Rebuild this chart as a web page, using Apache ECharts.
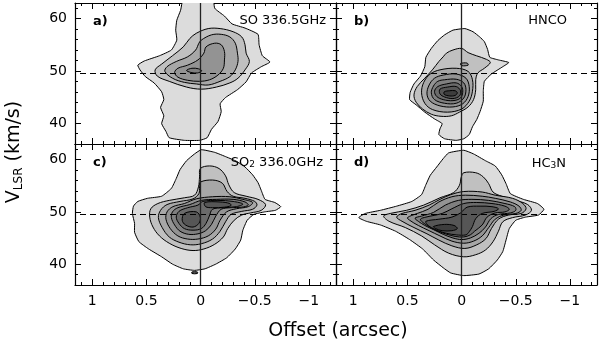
<!DOCTYPE html>
<html>
<head>
<meta charset="utf-8">
<script src="https://cdn.jsdelivr.net/npm/echarts@6/dist/echarts.min.js"></script>
<style>
  html, body { margin: 0; padding: 0; background: #fff; }
  #chart { width: 600px; height: 343px; }
</style>
</head>
<body>
<div id="chart"></div>
<script>
// axis ticks
const xMajor = [1, 0.5, 0, -0.5, -1]
const xMinor = [1.1, 0.9, 0.8, 0.7, 0.6, 0.4, 0.3, 0.2, 0.1, -0.1, -0.2, -0.3, -0.4, -0.6, -0.7, -0.8, -0.9, -1.1, -1.2]
const yMajor = [40, 50, 60]
const yMinor = [36, 38, 42, 44, 46, 48, 52, 54, 56, 58, 62]
const vSystemic = 49.5

// contours, [offset arcsec, V km/s], outermost level first
// a) SO 336.5GHz
const soL1 = [[0.15,64.5],[0.185,61.6],[0.22,59.7],[0.23,57.8],[0.22,55.9],[0.27,54.0],[0.38,52.9],[0.52,51.9],[0.58,51.1],[0.56,50.2],[0.51,48.9],[0.43,47.7],[0.36,46.0],[0.34,44.5],[0.37,43.0],[0.34,41.4],[0.36,39.9],[0.32,38.4],[0.29,37.2],[0.15,36.7],[0.01,36.7],[-0.06,37.2],[-0.10,38.8],[-0.16,40.3],[-0.19,42.2],[-0.18,43.7],[-0.23,44.9],[-0.34,46.4],[-0.42,47.9],[-0.47,49.6],[-0.56,50.8],[-0.64,51.7],[-0.57,52.9],[-0.54,55.0],[-0.53,57.0],[-0.41,58.2],[-0.29,59.0],[-0.22,60.5],[-0.13,62.0],[-0.11,64.5]]
const soL2 = [[0.04,57.2],[-0.07,58.1],[-0.18,58.1],[-0.30,57.5],[-0.38,56.5],[-0.41,55.0],[-0.42,53.4],[-0.45,51.8],[-0.41,50.2],[-0.345,48.6],[-0.27,47.7],[-0.145,46.9],[-0.006,46.5],[0.13,46.9],[0.29,48.0],[0.40,49.0],[0.42,50.2],[0.36,51.3],[0.26,52.9],[0.16,54.6],[0.10,56.2]]
const soL3 = [[-0.006,55.9],[-0.10,56.9],[-0.19,57.0],[-0.27,56.5],[-0.32,55.3],[-0.34,53.4],[-0.345,51.8],[-0.32,50.2],[-0.27,48.9],[-0.18,48.0],[-0.07,47.3],[0.04,47.5],[0.15,47.8],[0.26,48.6],[0.33,49.9],[0.31,50.8],[0.225,51.8],[0.12,52.7],[0.046,54.0],[0.016,55.3]]
const soL4 = [[-0.05,54.6],[-0.13,55.3],[-0.19,55.0],[-0.22,53.7],[-0.22,52.1],[-0.21,50.5],[-0.16,49.2],[-0.083,48.3],[0.01,48.0],[0.12,48.2],[0.21,48.8],[0.24,49.7],[0.21,50.5],[0.12,51.1],[0.025,52.1],[-0.03,53.4]]
const soL5 = [[0.13,50.1],[0.08,50.5],[0.02,50.4],[-0.01,50.0],[0.03,49.6],[0.09,49.7]]
const soLevels = [[soL1], [soL2], [soL3], [soL4], [soL5]]

// b) HNCO
const hncoL1 = [[0.157,56.9],[0.08,57.8],[-0.03,58.1],[-0.105,57.5],[-0.167,56.5],[-0.21,55.6],[-0.24,54.1],[-0.26,52.6],[-0.34,52.1],[-0.435,51.6],[-0.38,50.8],[-0.275,49.4],[-0.21,48.0],[-0.20,46.1],[-0.20,44.2],[-0.17,42.2],[-0.14,40.7],[-0.10,39.3],[-0.07,37.8],[-0.02,37.0],[0.05,36.7],[0.157,37.0],[0.21,37.8],[0.20,38.9],[0.18,39.9],[0.25,40.8],[0.34,42.1],[0.42,43.5],[0.48,44.5],[0.475,45.9],[0.44,47.5],[0.38,49.0],[0.34,50.8],[0.33,52.6],[0.28,54.3],[0.22,55.8]]
const hncoL2 = [[0.14,53.4],[0.08,54.0],[0.0,54.3],[-0.06,53.5],[-0.136,52.9],[-0.23,52.2],[-0.265,51.6],[-0.21,50.5],[-0.15,49.6],[-0.13,48.3],[-0.13,46.4],[-0.11,44.5],[-0.06,43.1],[0.02,42.1],[0.095,41.4],[0.19,41.3],[0.28,41.7],[0.36,42.7],[0.42,44.0],[0.44,45.4],[0.41,47.0],[0.34,48.6],[0.27,50.2],[0.21,51.8],[0.17,52.7]]
const hncoL3 = [[0.20,50.2],[0.05,50.5],[-0.06,49.9],[-0.10,48.3],[-0.10,46.1],[-0.07,44.2],[0.0,42.7],[0.13,42.1],[0.27,42.6],[0.34,43.8],[0.37,45.8],[0.35,47.8],[0.29,49.4]]
const hncoL4 = [[0.17,49.2],[0.05,49.4],[-0.04,48.6],[-0.07,47.0],[-0.06,45.1],[-0.01,43.7],[0.08,43.1],[0.20,43.3],[0.29,44.2],[0.32,45.6],[0.30,47.3],[0.25,48.6]]
const hncoL5 = [[0.157,48.3],[0.05,48.4],[-0.02,47.7],[-0.04,46.4],[-0.02,44.8],[0.05,43.8],[0.157,43.8],[0.25,44.5],[0.28,45.8],[0.26,47.1],[0.22,48.0]]
const hncoL6 = [[0.14,47.5],[0.05,47.7],[0.0,47.0],[-0.01,45.9],[0.01,44.8],[0.08,44.3],[0.17,44.5],[0.23,45.1],[0.25,46.1],[0.22,47.0]]
const hncoL7 = [[0.13,46.9],[0.05,47.0],[0.01,46.2],[0.02,45.2],[0.08,44.7],[0.157,45.0],[0.20,45.6],[0.20,46.5]]
const hncoL8 = [[0.11,46.2],[0.06,46.2],[0.04,45.8],[0.06,45.3],[0.11,45.2],[0.16,45.5],[0.16,46.0]]
const hncoPeak = [[0.01,51.4],[-0.05,51.5],[-0.06,51.1],[0.0,51.0]]
const hncoLevels = [[hncoL1], [hncoL2], [hncoL3], [hncoL4, hncoPeak], [hncoL5], [hncoL6], [hncoL7], [hncoL8]]

// c) SO2 336.0GHz
const so2L1 = [[-0.006,61.9],[-0.13,61.4],[-0.24,60.5],[-0.33,59.7],[-0.41,58.6],[-0.48,57.1],[-0.53,55.6],[-0.56,54.1],[-0.595,52.4],[-0.685,51.8],[-0.74,51.0],[-0.69,50.3],[-0.59,50.0],[-0.49,49.5],[-0.43,48.4],[-0.39,46.5],[-0.37,44.6],[-0.32,42.9],[-0.24,41.2],[-0.14,40.0],[-0.04,39.1],[0.056,38.8],[0.16,39.1],[0.26,40.0],[0.36,41.4],[0.48,42.9],[0.57,44.3],[0.61,46.1],[0.61,47.8],[0.63,49.7],[0.62,51.1],[0.58,52.0],[0.49,52.6],[0.36,53.0],[0.27,54.5],[0.225,56.4],[0.19,58.1],[0.13,59.8],[0.056,61.1]]
const so2L2 = [[0.003,58.3],[-0.083,58.8],[-0.17,58.3],[-0.23,56.9],[-0.26,55.2],[-0.31,53.7],[-0.42,53.0],[-0.53,52.4],[-0.60,51.4],[-0.56,50.3],[-0.46,49.8],[-0.38,49.4],[-0.31,48.4],[-0.25,46.8],[-0.21,45.2],[-0.13,43.8],[-0.03,42.9],[0.07,42.6],[0.18,43.0],[0.29,44.0],[0.38,45.4],[0.44,47.1],[0.47,49.0],[0.46,50.6],[0.395,51.6],[0.29,52.2],[0.15,52.7],[0.056,53.2],[0.02,54.8],[0.01,56.7]]
const so2L3 = [[0.003,55.7],[-0.11,56.1],[-0.20,55.5],[-0.245,53.9],[-0.30,53.0],[-0.41,52.6],[-0.50,52.0],[-0.52,51.3],[-0.48,50.5],[-0.38,50.1],[-0.28,49.5],[-0.23,48.1],[-0.18,46.3],[-0.11,44.8],[-0.006,43.9],[0.095,43.7],[0.20,44.2],[0.29,45.2],[0.355,47.0],[0.39,48.9],[0.37,50.3],[0.31,51.4],[0.19,52.0],[0.07,52.5],[0.016,53.5],[0.01,54.8]]
const so2L4 = [[0.04,52.5],[-0.11,52.9],[-0.27,52.9],[-0.39,52.4],[-0.48,51.8],[-0.44,51.0],[-0.33,50.6],[-0.24,50.0],[-0.18,48.4],[-0.14,46.7],[-0.07,45.4],[0.025,44.8],[0.12,44.8],[0.21,45.4],[0.28,46.8],[0.32,48.6],[0.31,50.0],[0.256,51.0],[0.15,51.6]]
const so2L5 = [[-0.006,52.2],[-0.145,52.4],[-0.30,52.4],[-0.41,51.9],[-0.44,51.3],[-0.38,50.9],[-0.28,50.8],[-0.19,50.5],[-0.14,49.2],[-0.10,47.6],[-0.046,46.4],[0.025,45.8],[0.11,45.7],[0.19,46.3],[0.24,47.5],[0.27,48.9],[0.26,50.0],[0.21,50.8],[0.10,51.4]]
const so2L6 = [[-0.02,52.0],[-0.16,52.2],[-0.30,52.0],[-0.39,51.5],[-0.33,51.0],[-0.21,50.8],[-0.11,50.5],[-0.08,49.2],[-0.05,47.8],[-0.006,46.8],[0.07,46.5],[0.15,46.8],[0.20,47.8],[0.225,49.0],[0.20,50.1],[0.12,50.8],[0.025,51.3]]
const so2L7a = [[-0.037,51.8],[-0.18,51.9],[-0.27,51.6],[-0.28,51.2],[-0.22,50.9],[-0.11,50.8],[-0.046,51.0]]
const so2L7b = [[0.15,49.7],[0.04,50.0],[0.003,49.0],[0.016,47.8],[0.07,47.1],[0.14,47.5],[0.17,48.4]]
const so2Dot = [[0.08,38.5],[0.03,38.5],[0.03,38.2],[0.08,38.2]]
const so2Levels = [[so2L1], [so2L2], [so2L3], [so2L4], [so2L5], [so2L6], [so2L7a, so2L7b, so2Dot]]

// d) HC3N
const hc3nL1 = [[0.17,60.2],[0.12,61.3],[-0.02,61.8],[-0.11,61.1],[-0.22,59.8],[-0.31,58.8],[-0.37,57.1],[-0.41,55.4],[-0.45,53.5],[-0.57,52.4],[-0.70,51.6],[-0.76,50.5],[-0.71,49.4],[-0.59,49.0],[-0.50,48.4],[-0.44,46.8],[-0.41,44.6],[-0.38,42.4],[-0.33,40.8],[-0.25,39.1],[-0.16,38.1],[-0.02,37.8],[0.10,38.3],[0.17,39.3],[0.26,40.8],[0.36,42.9],[0.48,44.7],[0.61,46.3],[0.75,47.5],[0.88,48.2],[0.95,48.9],[0.89,49.7],[0.75,50.3],[0.60,51.1],[0.46,52.0],[0.37,53.3],[0.33,55.2],[0.29,57.0],[0.23,58.6]]
const hc3nL2 = [[0.72,49.2],[0.66,49.7],[0.51,50.3],[0.35,51.3],[0.20,52.7],[0.074,53.7],[0.02,55.1],[0.003,56.7],[-0.02,57.5],[-0.13,57.5],[-0.20,56.7],[-0.25,55.4],[-0.29,53.8],[-0.37,53.0],[-0.50,52.2],[-0.61,51.4],[-0.645,50.3],[-0.59,49.4],[-0.47,48.9],[-0.38,48.1],[-0.34,46.3],[-0.29,44.3],[-0.22,42.7],[-0.13,41.8],[-0.02,41.4],[0.12,42.1],[0.25,43.7],[0.37,45.4],[0.52,47.0],[0.67,48.2]]
const hc3nL3 = [[0.60,49.0],[0.55,49.7],[0.43,50.3],[0.30,51.3],[0.20,52.4],[0.10,53.3],[-0.02,53.9],[-0.19,53.8],[-0.31,53.2],[-0.47,52.6],[-0.565,51.6],[-0.595,50.6],[-0.55,49.7],[-0.435,49.4],[-0.34,48.6],[-0.275,46.8],[-0.225,44.9],[-0.14,43.7],[-0.03,43.0],[0.09,43.5],[0.21,44.6],[0.32,45.8],[0.44,47.0],[0.55,48.2]]
const hc3nL4 = [[0.50,48.9],[0.41,49.7],[0.31,50.5],[0.21,51.9],[0.09,52.9],[-0.034,53.2],[-0.19,53.0],[-0.31,52.6],[-0.45,51.9],[-0.53,51.1],[-0.55,50.3],[-0.50,49.7],[-0.39,49.4],[-0.31,48.6],[-0.25,47.0],[-0.19,45.4],[-0.11,44.4],[-0.02,44.0],[0.09,44.4],[0.20,45.4],[0.30,46.4],[0.40,47.4],[0.48,48.4]]
const hc3nL5 = [[0.43,48.8],[0.37,49.2],[0.26,49.9],[0.15,51.3],[0.03,52.2],[-0.095,52.4],[-0.25,52.2],[-0.40,51.6],[-0.49,51.0],[-0.50,50.3],[-0.45,49.8],[-0.34,49.5],[-0.27,48.7],[-0.22,47.1],[-0.16,45.9],[-0.08,45.0],[0.0,44.7],[0.08,45.0],[0.17,45.7],[0.26,46.6],[0.34,47.4],[0.40,48.2]]
const hc3nL6 = [[0.38,48.6],[0.33,49.0],[0.18,49.7],[0.09,50.6],[-0.02,51.6],[-0.14,51.8],[-0.28,51.6],[-0.40,51.1],[-0.44,50.5],[-0.40,50.0],[-0.31,49.8],[-0.235,49.0],[-0.19,47.5],[-0.12,46.3],[-0.08,45.6],[-0.02,45.2],[0.06,45.3],[0.15,45.8],[0.24,46.5],[0.31,47.3],[0.36,48.0]]
const hc3nL7 = [[0.33,48.2],[0.21,48.6],[0.09,49.0],[0.01,49.8],[-0.05,50.9],[-0.17,51.1],[-0.28,51.0],[-0.34,50.6],[-0.30,50.1],[-0.19,49.7],[-0.13,48.7],[-0.10,47.2],[-0.07,46.2],[-0.04,45.6],[0.05,45.6],[0.14,45.9],[0.22,46.4],[0.28,47.0],[0.32,47.6]]
const hc3nL8 = [[0.26,47.2],[0.16,47.6],[0.07,47.4],[0.04,46.8],[0.09,46.4],[0.18,46.4],[0.24,46.8]]
const hc3nLevels = [[hc3nL1], [hc3nL2], [hc3nL3], [hc3nL4], [hc3nL5], [hc3nL6], [hc3nL7], [hc3nL8]]

const grays = ['#dcdcdc', '#c0c0c0', '#a7a7a7', '#939393', '#7f7f7f', '#6b6b6b', '#565656', '#3d3d3d']
const FONT = 'DejaVu Sans'

const panels = [
  { levels: soLevels, grid: { left: 75, top: 3 }, tag: 'a)', name: 'SO 336.5GHz', nameX: 326, nameY: 21 },
  { levels: hncoLevels, grid: { left: 336, top: 3 }, tag: 'b)', name: 'HNCO', nameX: 567, nameY: 21 },
  { levels: so2Levels, grid: { left: 75, top: 144 }, tag: 'c)', name: 'SO{s|2} 336.0GHz', nameX: 323, nameY: 163 },
  { levels: hc3nLevels, grid: { left: 336, top: 144 }, tag: 'd)', name: 'HC{s|3}N', nameX: 566, nameY: 164 }
]

function fmtOffset(v) {
  return v < 0 ? '\u2212' + (-v) : String(v)
}

const grids = []
const xAxes = []
const yAxes = []
const series = []
const graphics = []

panels.forEach((p, i) => {
  grids.push({ left: p.grid.left, top: p.grid.top, width: 261, height: 141 })
  const bottomRow = i >= 2
  const leftCol = i % 2 === 0
  ;['bottom', 'top'].forEach(pos => {
    xAxes.push({
      gridIndex: i, position: pos, type: 'value', min: -1.25, max: 1.16, inverse: true,
      axisLine: { show: true, onZero: false, lineStyle: { color: '#000', width: 1.2 } },
      axisTick: { show: true, inside: true, length: 6, customValues: xMajor, lineStyle: { color: '#000', width: 1 } },
      axisLabel: { show: bottomRow && pos === 'bottom', customValues: xMajor, formatter: fmtOffset, margin: 9, color: '#000', fontFamily: FONT, fontSize: 14 },
      splitLine: { show: false }
    })
    xAxes.push({
      gridIndex: i, position: pos, type: 'value', min: -1.25, max: 1.16, inverse: true,
      axisLine: { show: false, onZero: false },
      axisTick: { show: true, inside: true, length: 3, customValues: xMinor, lineStyle: { color: '#000', width: 1 } },
      axisLabel: { show: false },
      splitLine: { show: false }
    })
  })
  ;['left', 'right'].forEach(pos => {
    yAxes.push({
      gridIndex: i, position: pos, type: 'value', min: 36, max: 63,
      axisLine: { show: true, onZero: false, lineStyle: { color: '#000', width: 1.2 } },
      axisTick: { show: true, inside: true, length: 6, customValues: yMajor, lineStyle: { color: '#000', width: 1 } },
      axisLabel: { show: leftCol && pos === 'left', customValues: yMajor, margin: 8, color: '#000', fontFamily: FONT, fontSize: 14 },
      splitLine: { show: false }
    })
    yAxes.push({
      gridIndex: i, position: pos, type: 'value', min: 36, max: 63,
      axisLine: { show: false, onZero: false },
      axisTick: { show: true, inside: true, length: 3, customValues: yMinor, lineStyle: { color: '#000', width: 1 } },
      axisLabel: { show: false },
      splitLine: { show: false }
    })
  })

  // flatten contour levels into shapes
  const shapes = []
  p.levels.forEach((polys, lvl) => polys.forEach(pts => shapes.push({ lvl, pts })))

  series.push({
    type: 'custom',
    xAxisIndex: i * 4,
    yAxisIndex: i * 4,
    clip: true,
    silent: true,
    data: shapes.map(s => s.pts[0]),
    renderItem: (params, api) => {
      const s = shapes[params.dataIndex]
      return {
        type: 'polygon',
        shape: { points: s.pts.map(pt => api.coord(pt)), smooth: s.lvl === 0 ? 0.15 : 0.35 },
        style: { fill: grays[s.lvl], stroke: '#000', lineWidth: 1 }
      }
    }
  })
  series.push({
    type: 'line',
    xAxisIndex: i * 4,
    yAxisIndex: i * 4,
    data: [],
    z: 5,
    silent: true,
    markLine: {
      symbol: 'none',
      silent: true,
      animation: false,
      label: { show: false },
      data: [
        { yAxis: vSystemic, lineStyle: { type: [6, 4], color: '#000', width: 1 } },
        { xAxis: 0, lineStyle: { type: 'solid', color: '#222', width: 1.3 } }
      ]
    }
  })

  graphics.push({
    type: 'text', x: p.grid.left + 18, y: p.grid.top + (i < 2 ? 19 : 19), z: 10,
    style: { text: p.tag, font: 'bold 13px "' + FONT + '"', fill: '#000', verticalAlign: 'middle' }
  })
  graphics.push({
    type: 'text', x: p.nameX, y: p.nameY, z: 10,
    style: {
      text: p.name, fill: '#000', align: 'right', verticalAlign: 'middle',
      fontFamily: FONT, fontSize: 13,
      rich: { s: { fontFamily: FONT, fontSize: 9, verticalAlign: 'bottom', lineHeight: 8, fill: '#000' } }
    }
  })
})

graphics.push({
  type: 'text', x: 14, y: 152, rotation: Math.PI / 2, z: 10,
  style: {
    text: '{m|V}{s|LSR}{m| (km/s)}', align: 'center', verticalAlign: 'middle',
    rich: {
      m: { fontFamily: FONT, fontSize: 19, lineHeight: 22, fill: '#000' },
      s: { fontFamily: FONT, fontSize: 12, lineHeight: 10, verticalAlign: 'bottom', fill: '#000' }
    }
  }
})
graphics.push({
  type: 'text', x: 338, y: 331, z: 10,
  style: { text: 'Offset (arcsec)', align: 'center', verticalAlign: 'middle', fontFamily: FONT, fontSize: 19, fill: '#000' }
})

const chart = echarts.init(document.getElementById('chart'))
chart.setOption({
  animation: false,
  backgroundColor: '#fff',
  grid: grids,
  xAxis: xAxes,
  yAxis: yAxes,
  series: series,
  graphic: graphics
})
</script>
</body>
</html>
